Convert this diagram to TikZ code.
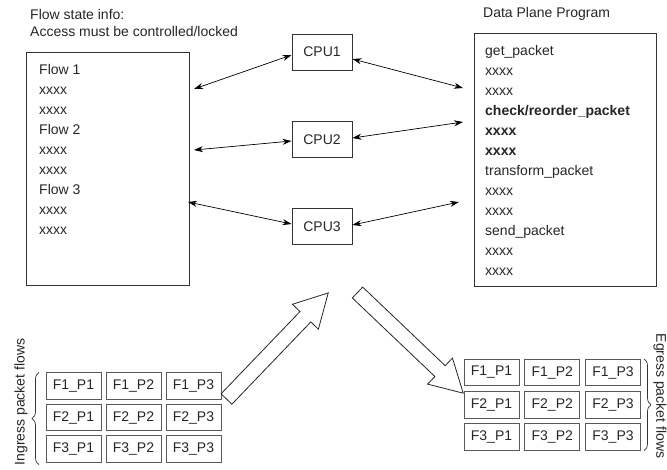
\documentclass[tikz,border=0pt]{standalone}
\usepackage{fontspec}
\setmainfont{Liberation Sans}
\usetikzlibrary{arrows.meta,decorations.pathreplacing}
\begin{document}
\begin{tikzpicture}[x=1pt,y=-1pt,
  every node/.style={font=\fontsize{14}{16}\selectfont, text=black!85, inner sep=0pt},
  bigbox/.style={draw=black!80, line width=0.9pt},
  cpubox/.style={draw=black!80, line width=0.9pt, minimum width=60pt, minimum height=36pt},
  cell/.style={draw=black!65, line width=0.8pt, minimum width=55pt, minimum height=26.5pt},
  item/.style={anchor=base west},
  link/.style={draw=black, line width=0.7pt, {Stealth[length=9pt,width=6pt]}-{Stealth[length=9pt,width=6pt]}},
  hollow/.style={draw=black!85, line width=0.8pt, fill=white, line join=miter},
  brc/.style={draw=black!80, line width=0.7pt, decorate, decoration={brace, amplitude=7pt}}
]
\useasboundingbox (0,0) rectangle (667,469);

% titles
\node[item] (t1) at (30,19) {Flow state info:};
\node[item] (t2) at (30,36) {Access must be controlled/locked};
\node[item] (t3) at (483,17) {Data Plane Program};

% big boxes
\node[bigbox, minimum width=163pt, minimum height=233pt] (lbox) at (107.5,168.5) {};
\node[bigbox, minimum width=182pt, minimum height=253pt] (rbox) at (565,159.5) {};

% left box items
\foreach \t [count=\i from 0] in {Flow 1,xxxx,xxxx,Flow 2,xxxx,xxxx,Flow 3,xxxx,xxxx}
  \node[item] (li\i) at (39,74+20*\i) {\t};

% right box items
\node[item] (r0) at (485,55) {get\_packet};
\node[item] (r1) at (485,75) {xxxx};
\node[item] (r2) at (485,95) {xxxx};
\node[item] (r3) at (485,115) {\bfseries check/reorder\_packet};
\node[item] (r4) at (485,135) {\bfseries xxxx};
\node[item] (r5) at (485,155) {\bfseries xxxx};
\node[item] (r6) at (485,175) {transform\_packet};
\node[item] (r7) at (485,195) {xxxx};
\node[item] (r8) at (485,215) {xxxx};
\node[item] (r9) at (485,235) {send\_packet};
\node[item] (r10) at (485,255) {xxxx};
\node[item] (r11) at (485,275) {xxxx};

% CPUs
\node[cpubox] (c1) at (322,52) {CPU1};
\node[cpubox] (c2) at (322,139.5) {CPU2};
\node[cpubox] (c3) at (322,226.5) {CPU3};

% connector end points
\coordinate (a1) at (194,89);
\coordinate (b1) at (463,88);
\coordinate (a2) at (194,150);
\coordinate (b2) at (463,122);
\coordinate (a3) at (188,202);
\coordinate (b3) at (459,202);

\draw[link] (a1) -- (c1.west |- 0,55);
\draw[link] (c1.east |- 0,59) -- (b1);
\draw[link] (a2) -- (c2.west |- 0,141);
\draw[link] (c2.east |- 0,138) -- (b2);
\draw[link] (a3) -- (c3.west |- 0,224);
\draw[link] (c3.east |- 0,225) -- (b3);

% ingress grid
\foreach \r [count=\i from 0] in {1,2,3}
  \foreach \c [count=\j from 0] in {1,2,3}
    \node[cell] (in\r\c) at (73.5+60*\j,386+31.5*\i) {F\r\_P\c};

% egress grid
\foreach \r [count=\i from 0] in {1,2,3}
  \foreach \c [count=\j from 0] in {1,2,3}
    \node[cell] (eg\r\c) at (491.5+60.75*\j,372.5+32.25*\i) {F\r\_P\c};

% braces
\draw[brc] (in31.south west -| 39,0) ++(0,2) -- (in11.north west -| 39,0);
\draw[brc] (eg13.north east -| 644,0) -- (eg33.south east -| 644,0);

% side labels
\node[rotate=90] (ing) at (21,402) {Ingress packet flows};
\node[rotate=-90] (egr) at (660,396) {Egress packet flows};

% hollow arrows
\draw[hollow, shift={(226.5,399)}, rotate=46.2]
  (0,-7.5) -- (114,-7.5) -- (114,-18) -- (147,0) -- (114,18) -- (114,7.5) -- (0,7.5) -- cycle;
\draw[hollow, shift={(357.5,292.5)}, rotate=-43.6]
  (0,-7.5) -- (114,-7.5) -- (114,-18) -- (146,0) -- (114,18) -- (114,7.5) -- (0,7.5) -- cycle;
\end{tikzpicture}
\end{document}
